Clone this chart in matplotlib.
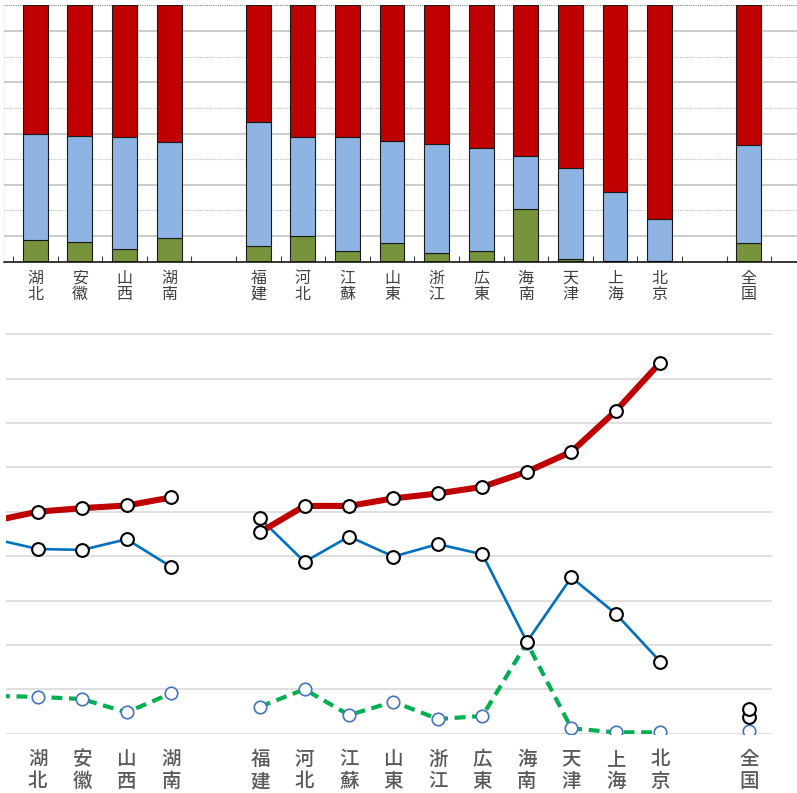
import numpy as np
import matplotlib
matplotlib.use("Agg")
import matplotlib.pyplot as plt
from matplotlib.transforms import offset_copy

plt.rcParams['font.family'] = ['Noto Sans CJK JP', 'DejaVu Sans']

# ---- data ----
# category slots (position -1 is a hidden category cut off at the left edge)
labels = ["", "湖北", "安徽", "山西", "湖南", "", "福建", "河北", "江蘇", "山東",
          "浙江", "広東", "海南", "天津", "上海", "北京", "", "全国"]
# shares (%) per slot; nan = empty slot
primary = [8.5, 8.3, 7.8, 4.8, 9.1, np.nan, 6.1, 10.0, 4.2, 7.2,
           3.3, 4.0, 20.5, 1.2, 0.3, 0.3, np.nan]
secondary = [43.9, 41.6, 41.4, 43.8, 37.6, np.nan, 48.5, 38.7, 44.4, 39.9,
             42.7, 40.4, 20.7, 35.2, 27.0, 16.2, np.nan]
tertiary = [47.9, 50.0, 50.8, 51.4, 53.2, np.nan, 45.4, 51.3, 51.3, 53.0,
            54.1, 55.6, 59.0, 63.5, 72.7, 83.6, np.nan]
# national values: bar chart (top) and line chart (bottom)
nat_bar = {"primary": 7.1, "secondary": 38.6, "tertiary": 54.3}
nat_line = {"primary": 0.7, "secondary": 3.8, "tertiary": 5.5}

# ---- derived ----
x = np.arange(-1, len(labels) - 1)
p_bar = np.array(primary + [nat_bar["primary"]])
s_bar = np.array(secondary + [nat_bar["secondary"]])
t_bar = np.array(tertiary + [nat_bar["tertiary"]])
tot = p_bar + s_bar + t_bar
p_bar, s_bar, t_bar = p_bar / tot * 100, s_bar / tot * 100, t_bar / tot * 100

p_line = np.array(primary + [nat_line["primary"]])
s_line = np.array(secondary + [nat_line["secondary"]])
t_line = np.array(tertiary + [nat_line["tertiary"]])

RED, BLUE_BAR, GREEN_BAR = "#C00000", "#8EB4E3", "#77933C"
BLUE_LINE, GREEN_LINE, MK_BLUE = "#0070C0", "#00B050", "#4472C4"

W, H = 797, 793
fig = plt.figure(figsize=(W / 100, H / 100), dpi=100)

# ---------- top: 100% stacked bars ----------
t_left, t_right, t_bot, t_top = 4, 815.7, 261.7, 5.3
ax1 = fig.add_axes([t_left / W, (H - t_bot) / H, (t_right - t_left) / W, (t_bot - t_top) / H])
ax1.set_xlim(-0.70, 17.5)
ax1.set_ylim(0, 100)
bw = 0.56
ec = dict(edgecolor="#1a1a1a", linewidth=0.8, zorder=3)
ax1.bar(x, p_bar, bw, color=GREEN_BAR, **ec)
ax1.bar(x, s_bar, bw, bottom=p_bar, color=BLUE_BAR, **ec)
ax1.bar(x, t_bar, bw, bottom=p_bar + s_bar, color=RED, **ec)
for v in [10, 30, 50, 70, 90]:
    ax1.axhline(v, color="#BFBFBF", lw=1.1, zorder=1)
for v in [20, 40, 60, 80]:
    ax1.axhline(v, color="#BFBFBF", lw=0.8, ls=(0, (1, 1)), zorder=1)
ax1.axhline(100, color="#808080", lw=0.8, ls=(0, (1, 1)), zorder=1)
for s in ["top", "right", "left"]:
    ax1.spines[s].set_visible(False)
ax1.spines["bottom"].set_linewidth(1.1)
ax1.spines["bottom"].set_zorder(4)
ax1.set_yticks([])
ax1.set_xticks(np.arange(-0.5, 17.6, 1.0))
ax1.tick_params(axis="x", direction="in", length=4.3, width=0.8, color="#404040",
                labelbottom=False)
tr1a = offset_copy(ax1.get_xaxis_transform(), fig=fig, x=0, y=-16.5, units="dots")
tr1b = offset_copy(ax1.get_xaxis_transform(), fig=fig, x=0, y=-32.5, units="dots")
for xi, lab in zip(x, labels):
    if len(lab) == 2:
        ax1.text(xi, 0, lab[0], transform=tr1a, ha="center", va="center",
                 fontsize=11.5, color="#404040")
        ax1.text(xi, 0, lab[1], transform=tr1b, ha="center", va="center",
                 fontsize=11.5, color="#404040")

# ---------- bottom: lines ----------
b_left, b_right, b_bot = 6, 771.5, 733.7
ppu = 4.44
ymax = 95
ax2 = fig.add_axes([b_left / W, (H - b_bot) / H, (b_right - b_left) / W, ymax * ppu / H])
ax2.set_xlim(-0.713, 16.5)
ax2.set_ylim(0, ymax)
for v in range(0, 91, 10):
    ax2.axhline(v, color="#D9D9D9", lw=1.2, zorder=1)
for s in ax2.spines.values():
    s.set_visible(False)
ax2.set_xticks([])
ax2.set_yticks([])

ax2.plot(x, p_line, color=GREEN_LINE, lw=3.0, ls=(0, (2.6, 1.6)), zorder=2)
ax2.plot(x, s_line, color=BLUE_LINE, lw=1.9, zorder=3)
ax2.plot(x, t_line, color=RED, lw=4.4, zorder=4, solid_capstyle="butt")
vis = x >= 0
ax2.plot(x[vis], p_line[vis], ls="none", marker="o", ms=9, mfc="white",
         mec=MK_BLUE, mew=1.2, zorder=5)
ax2.plot(x[vis], s_line[vis], ls="none", marker="o", ms=9.2, mfc="white",
         mec="black", mew=1.5, zorder=6)
ax2.plot(x[vis], t_line[vis], ls="none", marker="o", ms=9.2, mfc="white",
         mec="black", mew=1.5, zorder=6)

tr2a = offset_copy(ax2.get_xaxis_transform(), fig=fig, x=0, y=-25.5, units="dots")
tr2b = offset_copy(ax2.get_xaxis_transform(), fig=fig, x=0, y=-48.0, units="dots")
for xi, lab in zip(x, labels):
    if len(lab) == 2:
        ax2.text(xi, 0, lab[0], transform=tr2a, ha="center", va="center",
                 fontsize=14, color="#595959", fontweight="medium")
        ax2.text(xi, 0, lab[1], transform=tr2b, ha="center", va="center",
                 fontsize=14, color="#595959", fontweight="medium")

fig.savefig("out.png", dpi=100)
